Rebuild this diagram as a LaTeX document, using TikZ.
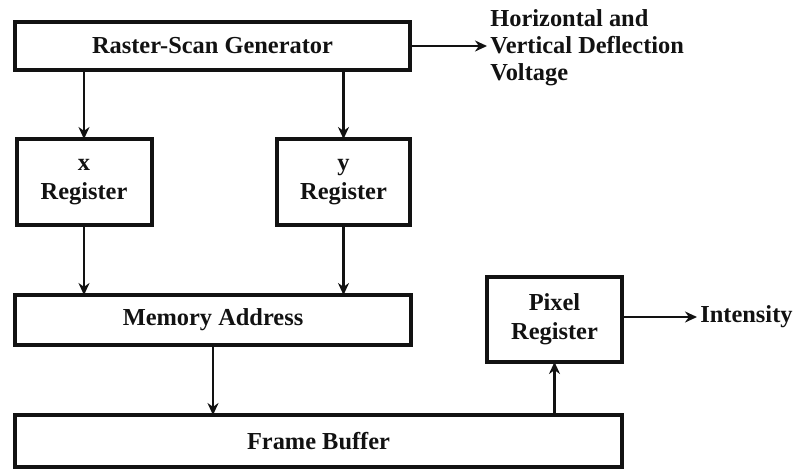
\documentclass[tikz,border=0pt]{standalone}
\usepackage{fontspec}
\setmainfont{Liberation Serif}
\usetikzlibrary{positioning,arrows.meta}
\definecolor{inkblack}{RGB}{18,18,18}

\begin{document}
\begin{tikzpicture}[x=0.5pt,y=-0.5pt,
    blockbox/.style={draw=inkblack,line width=2pt,inner sep=0pt,outer sep=0pt,
      font=\fontsize{12.2}{14.5}\selectfont\bfseries,text=inkblack,align=center},
    sidetext/.style={inner sep=1.5pt,font=\fontsize{12.2}{13.5}\selectfont\bfseries,
      text=inkblack,align=left},
    flow/.style={draw=inkblack,line width=1.3pt,-{Stealth[length=6pt,width=5.5pt]}}]
  \useasboundingbox (0,0) rectangle (799,468);

  % blocks
  \node[blockbox,minimum width=197.5pt,minimum height=24pt] (gen) at (212.5,46)
    {Raster-Scan Generator};
  \node[blockbox,minimum width=67.5pt,minimum height=43pt] (xreg) at (84,182)
    {x\\Register};
  \node[blockbox,minimum width=66.5pt,minimum height=43pt] (yreg) at (343.5,182)
    {y\\Register};
  \node[blockbox,minimum width=198pt,minimum height=25pt] (mem) at (213,320)
    {Memory Address};
  \node[blockbox,minimum width=303.5pt,minimum height=26pt] (buf) at (318.5,441)
    {Frame Buffer};
  \node[blockbox,minimum width=67.5pt,minimum height=42.5pt] (pix) at (554.5,319.5)
    {Pixel\\Register};

  % outputs
  \node[sidetext,anchor=west] (defl) at (487,48)
    {Horizontal and\\Vertical Deflection\\Voltage};
  \node[sidetext,anchor=west] (inten) at (697,317) {Intensity};

  % connections
  \draw[flow] (xreg.north |- gen.south) -- (xreg.north);
  \draw[flow] (yreg.north |- gen.south) -- (yreg.north);
  \draw[flow] (xreg.south) -- (xreg.south |- mem.north);
  \draw[flow] (yreg.south) -- (yreg.south |- mem.north);
  \draw[flow] (mem.south) -- (mem.south |- buf.north);
  \draw[flow] (pix.south |- buf.north) -- (pix.south);
  \draw[flow] (gen.east) -- (gen.east -| defl.west);
  \draw[flow] (pix.east |- inten.west) -- (inten.west);
\end{tikzpicture}
\end{document}
